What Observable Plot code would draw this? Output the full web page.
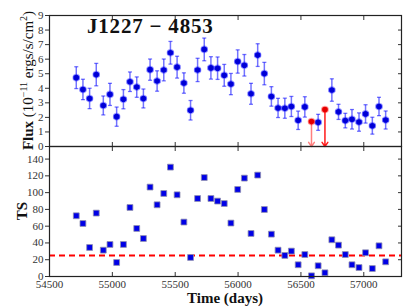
<!DOCTYPE html>
<html><head><meta charset="utf-8">
<script src="https://cdn.jsdelivr.net/npm/d3@7"></script>
<script src="https://cdn.jsdelivr.net/npm/@observablehq/plot@0.6"></script>
<style>
body{margin:0;background:#fff;}
#chart svg{display:block;overflow:visible;}
</style></head><body><div id="chart"></div>
<script>
// ---- data ----
const days = [54713, 54766, 54819, 54872, 54928, 54981, 55034, 55088, 55140, 55194, 55247, 55300, 55356, 55409, 55462, 55515, 55569, 55622, 55678, 55731, 55784, 55837, 55890, 55943, 55997, 56050, 56103, 56156, 56209, 56265, 56318, 56372, 56424, 56478, 56531, 56584, 56637, 56691, 56746, 56799, 56853, 56906, 56962, 57014, 57068, 57121, 57174];
const flux = [4.73, 3.92, 3.30, 4.94, 2.82, 3.58, 2.05, 3.25, 4.45, 4.08, 3.30, 5.28, 4.50, 5.26, 6.44, 5.45, 4.36, 2.49, 5.26, 6.67, 5.40, 5.38, 4.89, 4.29, 5.84, 5.58, 3.62, 6.28, 5.01, 3.44, 2.65, 2.63, 2.75, 1.80, 2.72, 1.71, 1.66, 2.54, 3.88, 2.38, 1.78, 1.87, 1.68, 2.24, 1.43, 2.75, 1.82];
const fluxErr = [0.75, 0.70, 0.70, 0.77, 0.65, 0.76, 0.66, 0.66, 0.67, 0.70, 0.65, 0.73, 0.70, 0.75, 0.78, 0.75, 0.70, 0.67, 0.80, 0.78, 0.77, 0.77, 0.75, 0.73, 0.80, 0.74, 0.72, 0.78, 0.77, 0.67, 0.66, 0.69, 0.69, 0.63, 0.70, null, 0.55, null, 0.77, 0.52, 0.50, 0.67, 0.63, 0.63, 0.58, 0.63, 0.62];
const upperLimit = [false,false,false,false,false,false,false,false,false,false,false,false,false,false,false,false,false,false,false,false,false,false,false,false,false,false,false,false,false,false,false,false,false,false,false,true,false,true,false,false,false,false,false,false,false,false,false];
const ts = [72.4, 63.2, 34.6, 75.6, 31.4, 38.2, 16.7, 38.2, 82.3, 57.3, 45.3, 106.6, 85.5, 99.0, 130.4, 97.4, 64.9, 22.7, 93.0, 118.0, 93.0, 89.9, 87.0, 63.7, 103.8, 117.3, 51.3, 120.9, 79.9, 50.5, 31.4, 25.1, 30.3, 14.0, 26.2, 0.8, 12.8, 4.4, 43.8, 37.4, 26.2, 14.0, 10.7, 28.3, 9.5, 36.6, 17.5];
const halfBin = 26.5;           // half width of each time bin (days)
const tsThreshold = 25;
const xTicks = [54500, 55000, 55500, 56000, 56500, 57000];
const fluxTicks = [0, 1, 2, 3, 4, 5, 6, 7, 8, 9];
const tsTicks = [0, 20, 40, 60, 80, 100, 120, 140];
const title = "J1227 − 4853";

// ---- build rows ----
const rows = days.map((d, i) => ({day: d, flux: flux[i], err: fluxErr[i], ul: upperLimit[i], ts: ts[i]}));
const det = rows.filter(r => !r.ul);
const uls = rows.filter(r => r.ul);

const W = 409, ML = 49, MR = 8;
const xDomain = [54500, 57300];
const font = "'Liberation Serif', 'DejaVu Serif', serif";
const capD = 16;     // half cap width in days
const blue = "#0000ff";
const red = "#ff0000";

const topPlot = Plot.plot({
  width: W, height: 146, marginTop: 15, marginBottom: 0, marginLeft: ML, marginRight: MR,
  style: {fontFamily: font, fontSize: "11px", color: "#333", background: "transparent", overflow: "visible"},
  x: {domain: xDomain},
  y: {domain: [0, 9]},
  marks: [
    Plot.axisY({ticks: fluxTicks, tickSize: 4, tickPadding: 2, label: null, fontSize: 11}),
    Plot.axisY({anchor: "right", ticks: fluxTicks, tickSize: -4, text: null, label: null}),
    Plot.axisX({anchor: "bottom", ticks: xTicks, tickSize: -4, text: null, label: null}),
    Plot.axisX({anchor: "top", ticks: xTicks, tickSize: -4, text: null, label: null}),
    // vertical error bars
    Plot.link(det, {x1: "day", x2: "day", y1: d => d.flux - d.err, y2: d => d.flux + d.err, stroke: blue, strokeOpacity: 0.55, strokeWidth: 1.5}),
    Plot.link(det, {x1: d => d.day - capD, x2: d => d.day + capD, y1: d => d.flux + d.err, y2: d => d.flux + d.err, stroke: blue, strokeOpacity: 0.55, strokeWidth: 1.3}),
    Plot.link(det, {x1: d => d.day - capD, x2: d => d.day + capD, y1: d => d.flux - d.err, y2: d => d.flux - d.err, stroke: blue, strokeOpacity: 0.55, strokeWidth: 1.3}),
    // horizontal bin bars
    Plot.link(det, {x1: d => d.day - halfBin, x2: d => d.day + halfBin, y1: "flux", y2: "flux", stroke: blue, strokeOpacity: 0.4, strokeWidth: 4}),
    Plot.dot(det, {x: "day", y: "flux", r: 2.8, fill: "#0000d0", stroke: blue, strokeOpacity: 0.35, strokeWidth: 2}),
    // upper limits
    Plot.arrow(uls, {x1: "day", x2: "day", y1: "flux", y2: 0, stroke: red, strokeOpacity: (d, i) => i === 0 ? 0.5 : 0.9, strokeWidth: 1.5, headLength: 5, headAngle: 70}),
    Plot.link(uls, {x1: d => d.day - halfBin, x2: d => d.day + halfBin, y1: "flux", y2: "flux", stroke: red, strokeOpacity: 0.3, strokeWidth: 4}),
    Plot.dot(uls, {x: "day", y: "flux", r: 2.8, fill: "#e00000", stroke: red, strokeOpacity: 0.35, strokeWidth: 2}),
    Plot.frame({stroke: "#222", strokeWidth: 1.2})
  ]
});

const bottomPlot = Plot.plot({
  width: W, height: 161, marginTop: 0, marginBottom: 31, marginLeft: ML, marginRight: MR,
  style: {fontFamily: font, fontSize: "11px", color: "#333", background: "transparent", overflow: "visible"},
  x: {domain: xDomain},
  y: {domain: [0, 155]},
  marks: [
    Plot.axisY({ticks: tsTicks, tickSize: 4, tickPadding: 2, label: null, fontSize: 11}),
    Plot.axisY({anchor: "right", ticks: tsTicks, tickSize: -4, text: null, label: null}),
    Plot.axisX({anchor: "bottom", ticks: xTicks, tickSize: -4, text: null, label: null}),
    Plot.axisX({anchor: "bottom", ticks: xTicks, tickSize: 0, tickPadding: 4, tickFormat: d3.format("d"), label: null, fontSize: 11}),
    Plot.axisX({anchor: "top", ticks: xTicks, tickSize: -4, text: null, label: null}),
    Plot.ruleY([tsThreshold], {stroke: red, strokeWidth: 2, strokeDasharray: "6,4"}),
    Plot.dot(rows, {x: "day", y: "ts", symbol: "square", r: 3.3, fill: "#0000e6", stroke: "#9090b0", strokeWidth: 0.8}),
    Plot.frame({stroke: "#222", strokeWidth: 1.2})
  ]
});

const chart = document.getElementById("chart");
chart.appendChild(topPlot);
chart.appendChild(bottomPlot);

// title and axis titles
const s1 = d3.select(topPlot);
s1.append("text")
  .attr("x", 87).attr("y", 33)
  .attr("text-anchor", "start")
  .attr("font-family", font).attr("font-size", 21).attr("font-weight", "bold")
  .attr("letter-spacing", "0.8px").attr("fill", "#111")
  .text(title);
const fl = s1.append("text")
  .attr("transform", "translate(33,80.5) rotate(-90)")
  .attr("text-anchor", "middle")
  .attr("font-family", font)
  .attr("font-size", 15)
  .attr("fill", "#111");
fl.append("tspan").attr("font-weight", "bold").text("Flux ");
fl.append("tspan").text("(10");
fl.append("tspan").attr("font-size", 10).attr("dy", -6).text("−11");
fl.append("tspan").attr("dy", 6).text(" ergs/s/cm");
fl.append("tspan").attr("font-size", 10).attr("dy", -6).text("2");
fl.append("tspan").attr("dy", 6).text(")");

const s2 = d3.select(bottomPlot);
s2.append("text")
  .attr("transform", "translate(27,65) rotate(-90)")
  .attr("text-anchor", "middle")
  .attr("font-family", font).attr("font-size", 15).attr("font-weight", "bold").attr("fill", "#111")
  .text("TS");
s2.append("text")
  .attr("x", (ML + W - MR) / 2).attr("y", 157)
  .attr("text-anchor", "middle")
  .attr("font-family", font).attr("font-size", 15).attr("font-weight", "bold").attr("fill", "#111")
  .text("Time (days)");
</script>
</body></html>
